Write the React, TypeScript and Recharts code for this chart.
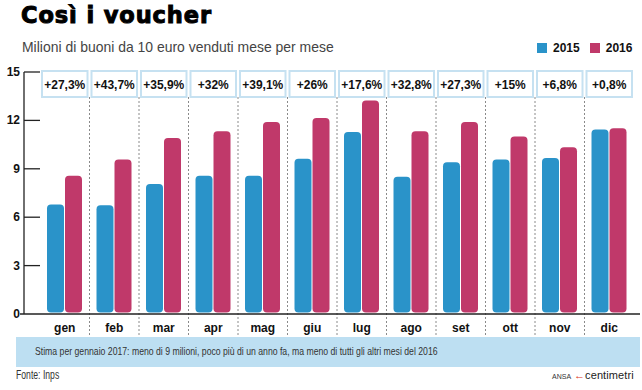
import { BarChart, Bar, XAxis, YAxis } from 'recharts';

const months = ['gen', 'feb', 'mar', 'apr', 'mag', 'giu', 'lug', 'ago', 'set', 'ott', 'nov', 'dic'];
const vouchers2015 = [6.78, 6.74, 8.06, 8.57, 8.57, 9.63, 11.28, 8.5, 9.4, 9.57, 9.67, 11.43];
const vouchers2016 = [8.57, 9.58, 10.91, 11.32, 11.9, 12.15, 13.23, 11.32, 11.9, 11.0, 10.33, 11.51];
const changes = ['+27,3%', '+43,7%', '+35,9%', '+32%', '+39,1%', '+26%', '+17,6%', '+32,8%', '+27,3%', '+15%', '+6,8%', '+0,8%'];
const yTicks = [0, 3, 6, 9, 12, 15];

const data = months.map((m, i) => ({ m, a: vouchers2015[i], b: vouchers2016[i], c: changes[i] }));

const BLUE = '#2a93c9';
const PINK = '#c0396a';
const BOX = '#c6e1f1';
const STRIP = '#bddff2';
const SANS = '"Liberation Sans", Arial, sans-serif';

const W = 642;
const H = 390;
const M = { top: 71, right: 8, bottom: 52, left: 0 };
const TOPH = 1;
const XH = 24;
const PLOT_H = H - M.top - TOPH - M.bottom - XH;

const RoundBar = (props: any) => {
  const { x, y, width, height, fill } = props;
  if (!height || height <= 0) return null;
  return <rect x={x} y={y} width={width} height={Math.max(0, height - 1.5)} rx={4} ry={4} fill={fill} />;
};

const TopTick = (props: any) => {
  const { x, payload, index } = props;
  const y = M.top;
  const half = payload.offset || 24.75;
  return (
    <g>
      <rect x={x - half + 2} y={y} width={half * 2 - 4} height={26} fill="#fff" stroke={BOX} strokeWidth={2} />
      <text x={x} y={y + 18} textAnchor="middle" fontFamily={SANS} fontWeight="bold" fontSize={12} fill="#111">
        {changes[index]}
      </text>
      {index < months.length - 1 && (
        <line x1={x + half} x2={x + half} y1={y + 26} y2={y + TOPH + PLOT_H + XH} stroke="#8a8a8a" strokeDasharray="2 2" />
      )}
    </g>
  );
};

const BottomTick = (props: any) => {
  const { x, y, payload, index } = props;
  const half = payload.offset || 24.75;
  return (
    <g>
      {index === 0 && (
        <line x1={x - half - 20} x2={x - half + half * 2 * months.length + 6} y1={y} y2={y} stroke="#222" strokeWidth={1.3} />
      )}
      <text x={x} y={y + 18} textAnchor="middle" fontFamily={SANS} fontWeight="bold" fontSize={12} fill="#111">
        {payload.value}
      </text>
    </g>
  );
};

// y labels, tick marks pointing into the plot, and the axis line at the left
const YTick = (props: any) => {
  const { x, y, payload } = props;
  const ax = x - 16;
  return (
    <g>
      {payload.value === yTicks[yTicks.length - 1] && (
        <line x1={ax} x2={ax} y1={y} y2={y + PLOT_H} stroke="#222" strokeWidth={1.3} />
      )}
      {payload.value !== 0 && <line x1={ax} x2={x} y1={y} y2={y} stroke="#222" strokeWidth={1.3} />}
      <text x={ax - 4} y={y + 4} textAnchor="end" fontFamily={SANS} fontWeight="bold" fontSize={12} fill="#111">
        {payload.value}
      </text>
    </g>
  );
};

const condensed = (scale: number) => ({ transform: `scaleX(${scale})`, transformOrigin: 'left center', whiteSpace: 'nowrap' as const });

export default function App() {
  return (
    <div style={{ position: 'absolute', left: 0, top: 0, width: W, height: H, background: '#fff', overflow: 'hidden' }}>
      <div style={{ position: 'absolute', left: 21, top: 2, fontFamily: '"DejaVu Sans", sans-serif', fontWeight: 'bold', fontSize: 22.5, letterSpacing: 0.9, WebkitTextStroke: '1px #000', color: '#000', whiteSpace: 'nowrap' }}>
        Così i voucher
      </div>
      <div style={{ position: 'absolute', left: 22, top: 38, fontFamily: SANS, fontSize: 15, color: '#444', ...condensed(0.93) }}>
        Milioni di buoni da 10 euro venduti mese per mese
      </div>
      <div style={{ position: 'absolute', left: 537, top: 41, display: 'flex', alignItems: 'center', fontFamily: SANS, fontWeight: 'bold', fontSize: 12, color: '#111' }}>
        <span style={{ width: 10, height: 10, background: BLUE, display: 'inline-block', marginRight: 6 }} />
        <span style={{ marginRight: 10 }}>2015</span>
        <span style={{ width: 10, height: 10, background: PINK, display: 'inline-block', marginRight: 6 }} />
        <span>2016</span>
      </div>

      <div style={{ position: 'absolute', left: 0, top: 0 }}>
        <BarChart width={W} height={H} data={data} margin={M} barCategoryGap={7} barGap={1}>
          <XAxis xAxisId="top" orientation="top" dataKey="m" height={TOPH} axisLine={false} tickLine={false} tickSize={0} tickMargin={0} tick={<TopTick />} interval={0} />
          <XAxis xAxisId="b" dataKey="m" height={XH} axisLine={false} tickLine={false} tickSize={0} tickMargin={0} tick={<BottomTick />} interval={0} />
          <YAxis domain={[0, 15]} ticks={yTicks} width={40} axisLine={false} tickLine={false} tickSize={0} tickMargin={0} tick={<YTick />} interval={0} />
          <Bar xAxisId="b" dataKey="a" name="2015" fill={BLUE} shape={<RoundBar />} isAnimationActive={false} />
          <Bar xAxisId="b" dataKey="b" name="2016" fill={PINK} shape={<RoundBar />} isAnimationActive={false} />
        </BarChart>
      </div>

      <div style={{ position: 'absolute', left: 16, top: 337, width: 624, height: 30, background: STRIP }}>
        <div style={{ position: 'absolute', left: 19, top: 8, fontFamily: SANS, fontSize: 10.5, color: '#333', ...condensed(0.826) }}>
          Stima per gennaio 2017: meno di 9 milioni, poco più di un anno fa, ma meno di tutti gli altri mesi del 2016
        </div>
      </div>
      <div style={{ position: 'absolute', left: 16, top: 368, fontFamily: SANS, fontSize: 12, color: '#333', ...condensed(0.72) }}>Fonte: Inps</div>
      <div style={{ position: 'absolute', left: 552, top: 369, display: 'flex', alignItems: 'baseline', whiteSpace: 'nowrap' }}>
        <span style={{ fontFamily: SANS, fontSize: 7, color: '#333', marginRight: 3 }}>ANSA</span>
        <span style={{ fontFamily: SANS, fontSize: 11, color: '#d32' }}>←</span>
        <span style={{ fontFamily: SANS, fontSize: 11, color: '#222', letterSpacing: 0.1 }}>centimetri</span>
      </div>
    </div>
  );
}
